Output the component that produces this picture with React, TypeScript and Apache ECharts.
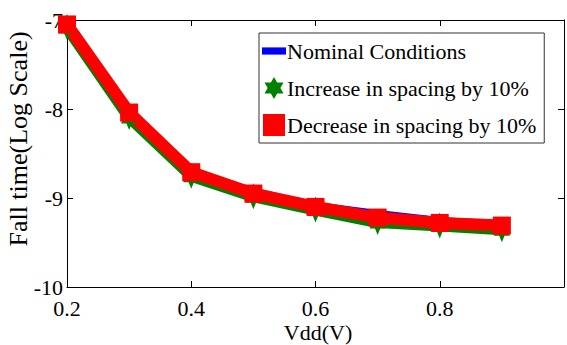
import React, { useEffect, useRef } from "react";
import * as echarts from "echarts";

const vdd = [0.2, 0.3, 0.4, 0.5, 0.6, 0.7, 0.8, 0.9];
const nominal = [-7.05, -8.05, -8.71, -8.94, -9.1, -9.19, -9.27, -9.31];
const increase = [-7.08, -8.09, -8.75, -8.98, -9.13, -9.27, -9.31, -9.35];
const decrease = [-7.05, -8.04, -8.71, -8.95, -9.1, -9.22, -9.28, -9.31];
const seriesNames = [
  "Nominal Conditions",
  "Increase in spacing by 10%",
  "Decrease in spacing by 10%",
];
const yLabel = "Fall time(Log Scale)";
const xLabel = "Vdd(V)";

const FONT = "Liberation Serif";
const HEX =
  "path://M50,0L64.4,25L93.3,25L78.9,50L93.3,75L64.4,75L50,100L35.6,75L6.7,75L21.1,50L6.7,25L35.6,25Z";

export default function App() {
  const ref = useRef<HTMLDivElement>(null);
  useEffect(() => {
    if (!ref.current) return;
    const chart = echarts.init(ref.current, null, { renderer: "svg" });
    const pts = (arr: number[]) => vdd.map((x, i) => [x, arr[i]]);
    const axisCommon = {
      axisLine: { show: true, onZero: false, lineStyle: { color: "#000", width: 1 } },
      axisTick: { show: true, inside: true, length: 6, lineStyle: { color: "#000" } },
      splitLine: { show: false },
    };
    chart.setOption({
      animation: false,
      backgroundColor: "#fff",
      textStyle: { fontFamily: FONT },
      grid: { left: 67, right: 0, top: 20, bottom: 58, containLabel: false },
      xAxis: [
        {
          type: "value",
          min: 0.2,
          max: 1.0,
          interval: 0.2,
          ...axisCommon,
          axisLabel: {
            fontFamily: FONT,
            fontSize: 22,
            color: "#000",
            margin: 10,
            formatter: (v: number) => (Math.abs(v - 1) < 1e-6 ? "" : String(Math.round(v * 10) / 10)),
          },
        },
        {
          type: "value",
          position: "top",
          min: 0.2,
          max: 1.0,
          interval: 0.2,
          ...axisCommon,
          axisLabel: { show: false },
        },
      ],
      yAxis: [
        {
          type: "value",
          min: -10,
          max: -7,
          interval: 1,
          ...axisCommon,
          axisLabel: {
            fontFamily: FONT,
            fontSize: 22,
            color: "#000",
            margin: 4,
            formatter: (v: number) => String(v),
          },
        },
        {
          type: "value",
          position: "right",
          min: -10,
          max: -7,
          interval: 1,
          ...axisCommon,
          axisLabel: { show: false },
        },
      ],
      legend: {
        left: 259,
        top: 33,
        orient: "vertical",
        backgroundColor: "#fff",
        borderColor: "#333",
        borderWidth: 1,
        borderRadius: 0,
        padding: [7, 8, 7, 3],
        itemGap: 15,
        itemWidth: 24,
        itemHeight: 22,
        textStyle: { fontFamily: FONT, fontSize: 22, color: "#000", padding: [0, 0, 0, -4] },
        data: [
          { name: seriesNames[0], icon: "path://M0,0h30v9h-30z", itemStyle: { color: "#0000ff" } },
          { name: seriesNames[1], icon: HEX, itemStyle: { color: "#008000" } },
          { name: seriesNames[2], icon: "path://M0,0h10v10h-10z", itemStyle: { color: "#ff0000" } },
        ],
      },
      series: [
        {
          name: seriesNames[0],
          type: "line",
          data: pts(nominal),
          symbol: "none",
          lineStyle: { color: "#0000ff", width: 10 },
          itemStyle: { color: "#0000ff" },
        },
        {
          name: seriesNames[1],
          type: "line",
          data: pts(increase),
          symbol: HEX,
          symbolSize: [16, 26],
          symbolKeepAspect: false,
          lineStyle: { color: "#008000", width: 12 },
          itemStyle: { color: "#008000" },
        },
        {
          name: seriesNames[2],
          type: "line",
          data: pts(decrease),
          symbol: "rect",
          symbolSize: 18,
          lineStyle: { color: "#ff0000", width: 12 },
          itemStyle: { color: "#ff0000" },
        },
      ],
      graphic: [
        {
          type: "text",
          x: 18,
          y: 139,
          rotation: Math.PI / 2,
          style: {
            text: yLabel,
            fontFamily: FONT,
            fontSize: 26,
            fill: "#000",
            align: "center",
            verticalAlign: "middle",
          },
        },
        {
          type: "text",
          x: 318,
          y: 332,
          style: {
            text: xLabel,
            fontFamily: FONT,
            fontSize: 22,
            fill: "#000",
            align: "center",
            verticalAlign: "middle",
          },
        },
      ],
    });
    return () => chart.dispose();
  }, []);
  return (
    <div
      ref={ref}
      style={{ position: "fixed", left: 0, top: 0, width: 567, height: 345, background: "#fff" }}
    />
  );
}
